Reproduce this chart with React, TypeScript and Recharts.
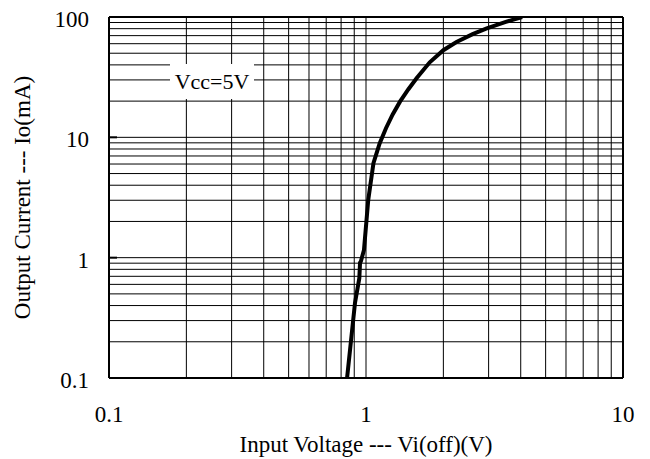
import React from 'react';
import { LineChart, Line, XAxis, YAxis, ReferenceLine } from 'recharts';

// Vcc = 5V transfer curve (log-log)
const inputVoltage = [0.844, 0.906, 0.942, 0.948, 0.955, 0.982, 1.02, 1.069, 1.13, 1.196, 1.27, 1.356, 1.46, 1.573, 1.77, 2.0, 2.25, 2.6, 2.95, 3.5, 4.05];
const outputCurrent = [0.1, 0.42, 0.675, 0.91, 0.93, 1.16, 3.0, 6.1, 8.9, 11.9, 15.5, 19.8, 25, 31, 42, 53, 62, 72, 80.5, 91, 100];

const xTicks = [0.1, 1, 10];
const yTicks = [0.1, 1, 10, 100];
const xGrid = [0.2, 0.3, 0.4, 0.5, 0.6, 0.7, 0.8, 0.9, 1, 2, 3, 4, 5, 6, 7, 8, 9];
const yGrid = [0.2, 0.3, 0.4, 0.5, 0.6, 0.7, 0.8, 0.9, 1, 2, 3, 4, 5, 6, 7, 8, 9, 10, 20, 30, 40, 50, 60, 70, 80, 90];

const data = inputVoltage.map((v, idx) => ({ v, io: outputCurrent[idx] }));

const FONT = '"Liberation Serif", "Times New Roman", serif';

const XTick = ({ x, y, payload }: any) => (
    <text x={x} y={y + 16} textAnchor="middle" fill="#000" fontSize={23} fontFamily={FONT}>
        {String(payload.value)}
    </text>
);

const YTick = ({ x, y, payload }: any) => (
    <text x={x} y={y + 10} textAnchor="end" fill="#000" fontSize={23} fontFamily={FONT}>
        {String(payload.value)}
    </text>
);

const App: React.FC = () => {
    return (
        <div style={{ position: 'absolute', left: 0, top: 0, width: 650, height: 459, background: '#fff' }}>
            <LineChart width={650} height={459} data={data} margin={{ top: 17, right: 27, left: 0, bottom: 0 }}>
                <XAxis
                    dataKey="v"
                    type="number"
                    scale="log"
                    domain={[0.1, 10]}
                    allowDataOverflow
                    ticks={xTicks}
                    height={81}
                    tickSize={0}
                    tickMargin={28}
                    tickLine={false}
                    tick={<XTick />}
                    axisLine={{ stroke: '#000', strokeWidth: 2 }}
                    label={{
                        value: 'Input Voltage --- Vi(off)(V)',
                        position: 'insideBottom',
                        offset: 7,
                        fill: '#000',
                        fontSize: 23,
                        fontFamily: FONT,
                    }}
                />
                <YAxis
                    type="number"
                    scale="log"
                    domain={[0.1, 100]}
                    allowDataOverflow
                    ticks={yTicks}
                    width={109}
                    tickSize={-8}
                    tickMargin={28}
                    tickLine={{ stroke: '#000', strokeWidth: 2 }}
                    tick={<YTick />}
                    axisLine={{ stroke: '#000', strokeWidth: 2 }}
                    label={{
                        value: 'Output Current --- Io(mA)',
                        angle: -90,
                        position: 'insideLeft',
                        offset: 22,
                        fill: '#000',
                        fontSize: 23,
                        fontFamily: FONT,
                        style: { textAnchor: 'middle' },
                    }}
                />
                {xGrid.map((g) => (
                    <ReferenceLine key={`x-${g}`} x={g} stroke="#000" strokeWidth={1} />
                ))}
                {yGrid.map((g) => (
                    <ReferenceLine key={`y-${g}`} y={g} stroke="#000" strokeWidth={1} />
                ))}
                {/* frame top and right */}
                <ReferenceLine x={10} stroke="#000" strokeWidth={2} />
                <ReferenceLine y={100} stroke="#000" strokeWidth={2} />
                <Line
                    dataKey="io"
                    type="linear"
                    stroke="#000"
                    strokeWidth={4}
                    dot={false}
                    isAnimationActive={false}
                />
            </LineChart>
            <div
                style={{
                    position: 'absolute',
                    left: 170,
                    top: 64,
                    width: 84,
                    height: 35,
                    background: '#fff',
                    fontFamily: FONT,
                    fontSize: 22,
                    lineHeight: '35px',
                    textAlign: 'center',
                    color: '#000',
                }}
            >
                Vcc=5V
            </div>
        </div>
    );
};

export default App;
